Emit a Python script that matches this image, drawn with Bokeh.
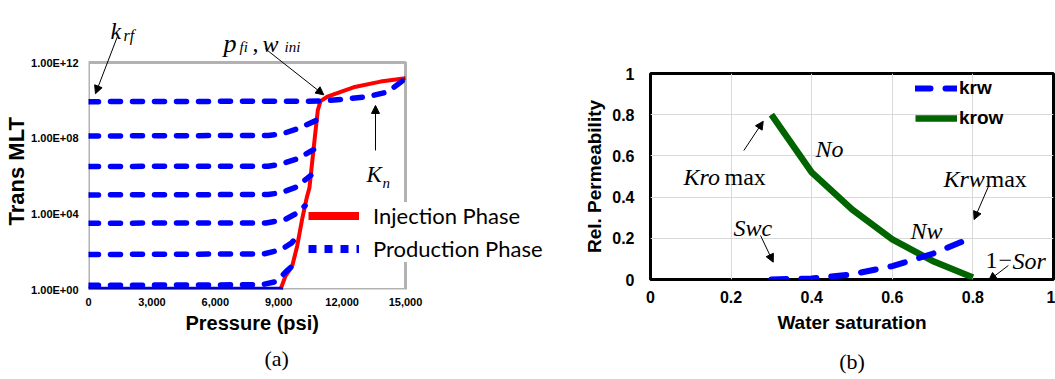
from bokeh.plotting import figure
from bokeh.layouts import row, column
from bokeh.models import (Range1d, FixedTicker, CustomJSTickFormatter, NumeralTickFormatter,
                          Label, Arrow, NormalHead, Legend, LegendItem, BoxAnnotation, LinearAxis,
                          Title, Spacer)
from bokeh.embed import file_html
from bokeh.resources import INLINE

# ---------------- (a) transmissibility multiplier vs pressure ----------------
pressure_ticks = [0, 3000, 6000, 9000, 12000, 15000]
trans_ticks = [1e0, 1e4, 1e8, 1e12]

inj_p = [9085, 9320, 9640, 9875, 10110, 10315, 10457, 10660, 10850, 10978, 11300, 12540, 13820, 15000]
inj_t = [1.0, 5.1, 17.4, 200, 5.2e3, 6.2e4, 2.5e5, 3.4e7, 3.0e9, 9.1e9, 1.55e10, 4.9e10, 9.8e10, 1.48e11]

prod_p = [
    [0, 10900, 12000, 13200, 14150, 15000],
    [0, 8500, 9100, 9900, 10800],
    [0, 8500, 9100, 9900, 10650],
    [0, 8500, 9100, 9800, 10520],
    [0, 8400, 9300, 9800, 10250],
    [0, 8300, 9100, 9600, 9980],
    [0, 8200, 8800, 9085, 9400, 9640],
    [0, 9085],
]
prod_t = [
    [8.5e9, 9.1e9, 1.12e10, 1.55e10, 2.75e10, 1.41e11],
    [1.3e8, 1.4e8, 1.6e8, 3.2e8, 8.9e8],
    [3.2e6, 3.3e6, 4.2e6, 8.3e6, 2.5e7],
    [1.0e5, 1.05e5, 1.3e5, 2.5e5, 1.07e6],
    [3.2e3, 3.3e3, 5.0e3, 1.0e4, 2.7e4],
    [71, 76, 126, 282, 851],
    [1.66, 1.78, 2.5, 4.5, 10, 17.4],
    [1.0, 1.0],
]

# ---------------- (b) relative permeability ----------------
sat_ticks = [0, 0.2, 0.4, 0.6, 0.8, 1.0]
sw = [0.3, 0.4, 0.5, 0.6, 0.7, 0.8]
krw = [0.0, 0.005, 0.025, 0.065, 0.125, 0.205]
krow = [0.8, 0.52, 0.34, 0.195, 0.09, 0.01]

SANS = "Liberation Sans"
SERIF = "Liberation Serif"
NAN = float("nan")


def style_axis(ax, size, standoff, label_size, label_standoff):
    ax.axis_line_color = None
    ax.major_tick_line_color = None
    ax.minor_tick_line_color = None
    ax.major_tick_in = 0
    ax.major_tick_out = 0
    ax.minor_tick_in = 0
    ax.minor_tick_out = 0
    ax.major_label_text_font = SANS
    ax.major_label_text_font_style = "bold"
    ax.major_label_text_font_size = size
    ax.major_label_text_color = "black"
    ax.major_label_standoff = standoff
    ax.axis_label_text_font = SANS
    ax.axis_label_text_font_style = "bold"
    ax.axis_label_text_font_size = label_size
    ax.axis_label_text_color = "black"
    ax.axis_label_standoff = label_standoff


def side_title(p, text, place, offset, standoff, size, font=SANS, style="bold"):
    p.add_layout(Title(text=text, align="left", offset=offset, standoff=standoff,
                       vertical_align="bottom", text_font=font, text_font_style=style,
                       text_font_size=size, text_color="black"), place)


def note(p, x, y, text, size="24px", italic=True, align="left"):
    p.add_layout(Label(x=x, y=y, x_units="screen", y_units="screen", text=text,
                       text_font=SERIF, text_font_style="italic" if italic else "normal",
                       text_font_size=size, text_color="black",
                       text_baseline="alphabetic", text_align=align))


def pointer(p, x0, y0, x1, y1):
    p.add_layout(Arrow(end=NormalHead(size=8, fill_color="black", line_color="black", line_width=1),
                       x_start=x0, y_start=y0, x_end=x1, y_end=y1,
                       line_color="black", line_width=1))


# the frame reaches the top and right edges so the notes above and the legend
# beside the data box stay visible; the box itself is drawn as an annotation
p1 = figure(width=560, height=379, x_range=Range1d(0, 15000 * 472 / 317),
            y_range=Range1d(1, 10 ** (12 * 289 / 227)),
            y_axis_type="log", output_backend="svg", toolbar_location=None,
            min_border_left=88, min_border_right=0, min_border_top=0, min_border_bottom=90)
p1.outline_line_color = None
p1.xgrid.visible = False
p1.ygrid.visible = False

xa = p1.xaxis[0]
xa.ticker = FixedTicker(ticks=pressure_ticks, minor_ticks=[])
xa.formatter = NumeralTickFormatter(format="0,0")
style_axis(xa, "11px", 8, "20px", 0)

ya = p1.yaxis[0]
ya.ticker = FixedTicker(ticks=trans_ticks, minor_ticks=[])
ya.formatter = CustomJSTickFormatter(code="""
    const e = Math.round(Math.log10(tick));
    return "1.00E+" + (e < 10 ? "0" : "") + e;
""")
style_axis(ya, "11px", 10, "22px", 0)

side_title(p1, "Trans MLT", "left", 64, 0, "22px")
side_title(p1, "Pressure (psi)", "below", 97, 2, "20px")
side_title(p1, "(a)", "below", 176, 18, "22px", font=SERIF, style="normal")

p1.line(inj_p, inj_t, line_color="#ff0000", line_width=4, line_join="round")
for i, (xs, ys) in enumerate(zip(prod_p, prod_t)):
    on_floor = i == len(prod_p) - 1   # lowest curve runs along the bottom edge
    p1.line(xs, ys, line_color="#0000ff", line_width=5.5,
            line_dash="solid" if on_floor else "10 12",
            line_cap="round", line_join="round")

p1.add_layout(BoxAnnotation(left=pressure_ticks[0], right=pressure_ticks[-1],
                            bottom=trans_ticks[0], top=trans_ticks[-1],
                            fill_color=None, fill_alpha=0, line_color="black", line_width=3))

# legend keys (no visible points of their own)
inj_key = p1.line(x=[NAN], y=[NAN], line_color="#ff0000", line_width=8)
prod_key = p1.line(x=[NAN], y=[NAN], line_color="#0000ff", line_width=8, line_dash="8 8")
leg1 = Legend(items=[LegendItem(label="Injection Phase", renderers=[inj_key]),
                     LegendItem(label="Production Phase", renderers=[prod_key])],
              location=(220, 27), padding=4, margin=0, spacing=6,
              glyph_width=51, glyph_height=27, label_height=27, label_standoff=14,
              label_text_font="Lato", label_text_font_size="22px", label_text_color="black",
              border_line_color=None, background_fill_color="white", background_fill_alpha=1)
p1.add_layout(leg1)

# annotations
note(p1, 22, 259, "k")
note(p1, 35, 254, "rf", size="16px")
note(p1, 135, 246, "p", size="26px")
note(p1, 151, 243, "fi", size="15px")
note(p1, 164, 246, ",", italic=False)
note(p1, 174, 246, "w")
note(p1, 196, 243, "ini", size="15px")
note(p1, 278, 115, "K", size="23px")
note(p1, 294, 107, "n", size="15px")

pointer(p1, 1358, 10 ** 13.34, 331, 10 ** 10.35)
pointer(p1, 8375, 10 ** 12.72, 11134, 10 ** 10.29)
pointer(p1, 13580, 10 ** 7.35, 13580, 10 ** 9.73)

p2 = figure(width=495, height=377, x_range=Range1d(0, 1), y_range=Range1d(0, 1),
            output_backend="svg", toolbar_location=None,
            min_border_left=90, min_border_right=2, min_border_top=72, min_border_bottom=99)
p2.outline_line_color = "black"
p2.outline_line_width = 3

tick_fmt = CustomJSTickFormatter(code="return String(Math.round(tick * 10) / 10);")
xb = p2.xaxis[0]
xb.ticker = FixedTicker(ticks=sat_ticks, minor_ticks=[])
xb.formatter = tick_fmt
xb.axis_label = "Water saturation"
style_axis(xb, "16px", 11, "19px", 6)

yb = p2.yaxis[0]
yb.ticker = FixedTicker(ticks=sat_ticks, minor_ticks=[])
yb.formatter = tick_fmt
yb.axis_label = "Rel. Permeability"
style_axis(yb, "16px", 16, "19px", 4)

cap_b = LinearAxis(ticker=FixedTicker(ticks=[]), axis_label="(b)")
style_axis(cap_b, "1px", 0, "22px", 13)
cap_b.axis_label_text_font = SERIF
cap_b.axis_label_text_font_style = "normal"
p2.add_layout(cap_b, "below")

for g in (p2.xgrid[0], p2.ygrid[0]):
    g.grid_line_color = "#d9d9d9"
    g.grid_line_width = 1

krow_line = p2.line(sw, krow, line_color="#006400", line_width=6.5, line_join="round")
krw_line = p2.line(sw, krw, line_color="#0000ff", line_width=6, line_dash="15 15",
                   line_cap="round", line_join="round")

leg2 = Legend(items=[LegendItem(label="krw", renderers=[krw_line]),
                     LegendItem(label="krow", renderers=[krow_line])],
              location=(265, 150), padding=0, margin=0, spacing=8,
              glyph_width=42, glyph_height=22, label_height=22, label_standoff=2,
              label_text_font=SANS, label_text_font_style="bold", label_text_font_size="19px",
              label_text_color="black", border_line_color=None, background_fill_alpha=0)
p2.add_layout(leg2)

note(p2, 33, 103, "Kro")
note(p2, 74, 103, "max", italic=False)
note(p2, 165, 131, "No")
note(p2, 293, 101, "Krw")
note(p2, 335, 101, "max", italic=False)
note(p2, 83, 52, "Swc")
note(p2, 260, 49, "Nw")
note(p2, 335, 19, "1", italic=False)
note(p2, 348, 19, "\u2212", italic=False)
note(p2, 362, 19, "Sor")

pointer(p2, 0.2315, 0.626, 0.2797, 0.768)
pointer(p2, 0.8395, 0.456, 0.803, 0.291)
pointer(p2, 0.273, 0.2136, 0.3045, 0.084)
pointer(p2, 0.888, 0.068, 0.839, -0.005)

# the 1px spacer keeps the two panels' frames independent of each other
layout = row(p1, column(Spacer(width=495, height=1), p2))
open("out.html", "w").write(file_html(layout, INLINE))
